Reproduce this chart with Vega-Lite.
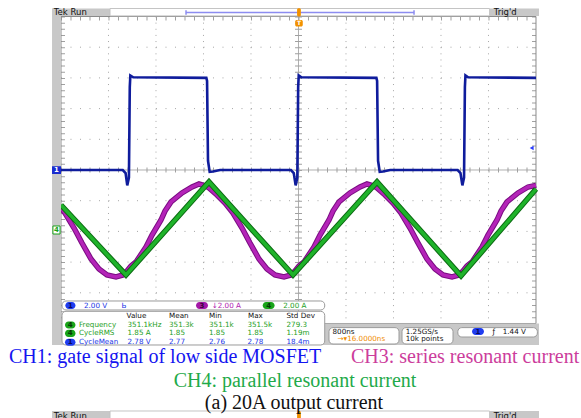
{
  "$schema": "https://vega.github.io/schema/vega-lite/v6.json",
  "width": 581,
  "height": 418,
  "autosize": {"type": "none"},
  "padding": 0,
  "background": "white",
  "config": {"view": {"stroke": null}, "axis": {"disable": true}},
  "data": {"values": [{}]},
  "datasets": {
    "gv": [{"x":1},{"x":2},{"x":3},{"x":4},{"x":6},{"x":7},{"x":8},{"x":9}],
    "gh": [{"y":4},{"y":3},{"y":2},{"y":1},{"y":-1},{"y":-2},{"y":-3},{"y":-4}],
    "ch1": [
      {"x":0,"y":0},{"x":1.30,"y":0},{"x":1.36,"y":-0.1},{"x":1.395,"y":-0.5},{"x":1.43,"y":-0.25},{"x":1.448,"y":2.7},{"x":1.46,"y":3.08},{"x":1.52,"y":3.02},
      {"x":3.06,"y":3.0},{"x":3.075,"y":2.9},{"x":3.095,"y":0.3},{"x":3.13,"y":-0.06},{"x":3.2,"y":-0.05},{"x":3.35,"y":0},
      {"x":4.84,"y":0},{"x":4.90,"y":-0.1},{"x":4.94,"y":-0.5},{"x":4.975,"y":-0.25},{"x":4.993,"y":2.7},{"x":5.005,"y":3.08},{"x":5.06,"y":3.02},
      {"x":6.64,"y":3.0},{"x":6.655,"y":2.9},{"x":6.675,"y":0.3},{"x":6.71,"y":-0.06},{"x":6.78,"y":-0.05},{"x":6.93,"y":0},
      {"x":8.35,"y":0},{"x":8.41,"y":-0.1},{"x":8.45,"y":-0.5},{"x":8.485,"y":-0.25},{"x":8.503,"y":2.7},{"x":8.515,"y":3.08},{"x":8.57,"y":3.02},{"x":10,"y":3.0}
    ],
    "ch3": [
      {"x":0,"y":-1.238},{"x":0.084,"y":-1.401},{"x":0.274,"y":-1.889},{"x":0.442,"y":-2.378},{"x":0.632,"y":-2.899},{"x":0.8,"y":-3.225},{"x":0.968,"y":-3.42},{"x":1.158,"y":-3.485},{"x":1.305,"y":-3.42},{"x":1.389,"y":-3.29},{"x":1.474,"y":-3.127},{"x":1.579,"y":-2.997},{"x":1.789,"y":-2.508},{"x":1.916,"y":-2.117},{"x":2.105,"y":-1.629},{"x":2.189,"y":-1.336},{"x":2.316,"y":-1.042},{"x":2.547,"y":-0.749},{"x":2.758,"y":-0.554},{"x":2.905,"y":-0.456},{"x":3.053,"y":-0.521},{"x":3.116,"y":-0.586},
      {"x":3.284,"y":-0.814},{"x":3.453,"y":-1.075},{"x":3.621,"y":-1.401},{"x":3.811,"y":-1.889},{"x":3.979,"y":-2.378},{"x":4.168,"y":-2.899},{"x":4.337,"y":-3.225},{"x":4.505,"y":-3.42},{"x":4.695,"y":-3.485},{"x":4.842,"y":-3.42},{"x":4.926,"y":-3.29},{"x":5.011,"y":-3.127},{"x":5.116,"y":-2.997},{"x":5.326,"y":-2.508},{"x":5.453,"y":-2.117},{"x":5.642,"y":-1.629},{"x":5.726,"y":-1.336},{"x":5.853,"y":-1.042},{"x":6.084,"y":-0.749},{"x":6.295,"y":-0.554},{"x":6.442,"y":-0.456},{"x":6.589,"y":-0.521},{"x":6.653,"y":-0.586},
      {"x":6.821,"y":-0.814},{"x":6.989,"y":-1.075},{"x":7.158,"y":-1.401},{"x":7.347,"y":-1.889},{"x":7.516,"y":-2.378},{"x":7.705,"y":-2.899},{"x":7.874,"y":-3.225},{"x":8.042,"y":-3.42},{"x":8.232,"y":-3.485},{"x":8.379,"y":-3.42},{"x":8.463,"y":-3.29},{"x":8.547,"y":-3.127},{"x":8.653,"y":-2.997},{"x":8.863,"y":-2.508},{"x":8.989,"y":-2.117},{"x":9.179,"y":-1.629},{"x":9.263,"y":-1.336},{"x":9.389,"y":-1.042},{"x":9.621,"y":-0.749},{"x":9.832,"y":-0.554},{"x":10,"y":-0.5}
    ],
    "ch4": [
      {"x":0,"y":-1.14},{"x":1.368,"y":-3.42},{"x":3.116,"y":-0.39},{"x":4.884,"y":-3.42},{"x":6.653,"y":-0.39},{"x":8.421,"y":-3.45},{"x":10,"y":-0.62}
    ],
    "gray": [
      {"x":-0.189,"x2":0,"y":5.261,"y2":-5.7},
      {"x":-0.189,"x2":1.032,"y":5.261,"y2":5.02},
      {"x":9.023,"x2":10.063,"y":5.261,"y2":5.02},
      {"x":-0.189,"x2":10.063,"y":-4.997,"y2":-5.7},
      {"x":-0.189,"x2":1.032,"y":-7.85,"y2":-8.2},
      {"x":9.023,"x2":10.063,"y":-7.85,"y2":-8.2}
    ],
    "hdrWhite": [
      {"x":1.032,"x2":9.023,"y":5.261,"y2":5.02},
      {"x":1.032,"x2":9.023,"y":-7.85,"y2":-8.2}
    ],
    "orangeR": [
      {"x":4.97,"x2":5.05,"y":5.27,"y2":5.0},
      {"x":4.93,"x2":5.09,"y":4.886,"y2":4.674},
      {"x":4.97,"x2":5.05,"y":-7.85,"y2":-8.2},
      {"x":5.684,"x2":5.789,"y":-5.42,"y2":-5.62}
    ],
    "panels": [
      {"x":0.021,"x2":5.552,"y":-4.267,"y2":-4.56},
      {"x":0.021,"x2":5.552,"y":-4.603,"y2":-5.70},
      {"x":5.642,"x2":7.116,"y":-5.134,"y2":-5.668},
      {"x":7.179,"x2":8.253,"y":-5.134,"y2":-5.668},
      {"x":8.354,"x2":10.029,"y":-5.134,"y2":-5.44}
    ],
    "ovB": [
      {"x":0.091,"x2":0.305,"y":-4.30,"y2":-4.53,"cx":0.198,"cy":-4.414,"t":"1"},
      {"x":0.084,"x2":0.305,"y":-5.497,"y2":-5.727,"cx":0.195,"cy":-5.612,"t":"1"},
      {"x":8.653,"x2":8.905,"y":-5.146,"y2":-5.376,"cx":8.779,"cy":-5.261,"t":"1"}
    ],
    "ovG": [
      {"x":4.246,"x2":4.497,"y":-4.30,"y2":-4.53,"cx":4.372,"cy":-4.414,"t":"4"},
      {"x":0.084,"x2":0.305,"y":-4.934,"y2":-5.164,"cx":0.195,"cy":-5.049,"t":"4"},
      {"x":0.084,"x2":0.305,"y":-5.207,"y2":-5.437,"cx":0.195,"cy":-5.322,"t":"4"}
    ],
    "ovM": [
      {"x":2.842,"x2":3.095,"y":-4.30,"y2":-4.53,"cx":2.969,"cy":-4.414,"t":"3"}
    ],
    "txtBlack": [
      {"x":1.381,"y":-4.746,"t":"Value"},{"x":2.274,"y":-4.746,"t":"Mean"},{"x":3.116,"y":-4.746,"t":"Min"},{"x":3.937,"y":-4.746,"t":"Max"},{"x":4.747,"y":-4.746,"t":"Std Dev"},
      {"x":5.716,"y":-5.261,"t":"800ns"},{"x":7.257,"y":-5.261,"t":"1.25GS/s"},{"x":7.257,"y":-5.521,"t":"10k points"},{"x":9.084,"y":-5.261,"t":"ƒ"},{"x":9.299,"y":-5.261,"t":"1.44 V"}
    ],
    "txtHdr": [
      {"x":-0.15,"y":5.14,"t":"Tek Run"},{"x":9.11,"y":5.14,"t":"Trig'd"},
      {"x":-0.15,"y":-8.0,"t":"Tek Run"},{"x":9.11,"y":-8.0,"t":"Trig'd"}
    ],
    "txtBlue": [
      {"x":0.484,"y":-4.414,"t":"2.00 V"},{"x":1.274,"y":-4.414,"t":"Ь"},
      {"x":0.379,"y":-5.612,"t":"CycleMean"},{"x":1.40,"y":-5.612,"t":"2.78 V"},{"x":2.274,"y":-5.612,"t":"2.77"},{"x":3.116,"y":-5.612,"t":"2.76"},{"x":3.924,"y":-5.612,"t":"2.78"},{"x":4.747,"y":-5.612,"t":"18.4m"}
    ],
    "txtGreen": [
      {"x":4.678,"y":-4.414,"t":"2.00 A"},
      {"x":0.379,"y":-5.049,"t":"Frequency"},{"x":1.40,"y":-5.049,"t":"351.1kHz"},{"x":2.274,"y":-5.049,"t":"351.3k"},{"x":3.116,"y":-5.049,"t":"351.1k"},{"x":3.924,"y":-5.049,"t":"351.5k"},{"x":4.747,"y":-5.049,"t":"279.3"},
      {"x":0.379,"y":-5.322,"t":"CycleRMS"},{"x":1.40,"y":-5.322,"t":"1.85 A"},{"x":2.274,"y":-5.322,"t":"1.85"},{"x":3.116,"y":-5.322,"t":"1.85"},{"x":3.924,"y":-5.322,"t":"1.85"},{"x":4.747,"y":-5.322,"t":"1.19m"}
    ]
  },
  "layer": [
    {
      "data": {"name": "gv"},
      "mark": {"type": "rule", "color": "#a6a6a6", "strokeWidth": 1, "strokeDash": [1, 5.14]},
      "encoding": {
        "x": {"field": "x", "type": "quantitative", "scale": {"domain": [-1.28421, 10.94737], "nice": false, "zero": false}, "axis": null},
        "y": {"datum": 5, "type": "quantitative", "scale": {"domain": [-8.07818, 5.53746], "nice": false, "zero": false}, "axis": null},
        "y2": {"datum": -5}
      }
    },
    {
      "data": {"name": "gh"},
      "mark": {"type": "rule", "color": "#a6a6a6", "strokeWidth": 1, "strokeDash": [1, 8.5]},
      "encoding": {
        "y": {"field": "y", "type": "quantitative"},
        "x": {"datum": 0, "type": "quantitative"},
        "x2": {"datum": 10}
      }
    },
    {
      "mark": {"type": "rule", "color": "#b0b0b0", "strokeWidth": 1},
      "encoding": {"x": {"datum": 0, "type": "quantitative"}, "x2": {"datum": 10}, "y": {"datum": 0, "type": "quantitative"}}
    },
    {
      "mark": {"type": "rule", "color": "#b0b0b0", "strokeWidth": 1},
      "encoding": {"x": {"datum": 5, "type": "quantitative"}, "y": {"datum": 5, "type": "quantitative"}, "y2": {"datum": -5}}
    },
    {
      "mark": {"type": "rule", "color": "#a0a0a0", "strokeWidth": 5, "strokeDash": [1, 8.5]},
      "encoding": {"x": {"datum": 0, "type": "quantitative"}, "x2": {"datum": 10}, "y": {"datum": 0, "type": "quantitative"}}
    },
    {
      "mark": {"type": "rule", "color": "#a0a0a0", "strokeWidth": 7, "strokeDash": [1, 5.14]},
      "encoding": {"x": {"datum": 5, "type": "quantitative"}, "y": {"datum": 5, "type": "quantitative"}, "y2": {"datum": -5}}
    },
    {
      "mark": {"type": "rule", "color": "#a0a0a0", "strokeWidth": 4, "strokeDash": [1, 5.14]},
      "encoding": {"x": {"datum": 0.042, "type": "quantitative"}, "y": {"datum": 5, "type": "quantitative"}, "y2": {"datum": -5}}
    },
    {
      "mark": {"type": "rule", "color": "#a0a0a0", "strokeWidth": 4, "strokeDash": [1, 5.14]},
      "encoding": {"x": {"datum": 9.958, "type": "quantitative"}, "y": {"datum": 5, "type": "quantitative"}, "y2": {"datum": -5}}
    },
    {
      "mark": {"type": "rule", "color": "#a0a0a0", "strokeWidth": 4, "strokeDash": [1, 8.5]},
      "encoding": {"x": {"datum": 0, "type": "quantitative"}, "x2": {"datum": 10}, "y": {"datum": 4.935, "type": "quantitative"}}
    },
    {
      "mark": {"type": "rect", "fillOpacity": 0, "stroke": "#8a8a8a", "strokeWidth": 1},
      "encoding": {"x": {"datum": 0, "type": "quantitative"}, "x2": {"datum": 10}, "y": {"datum": 5, "type": "quantitative"}, "y2": {"datum": -5}}
    },
    {
      "data": {"name": "ch1"},
      "mark": {"type": "line", "color": "#0f1c9c", "strokeWidth": 2.6},
      "encoding": {"x": {"field": "x", "type": "quantitative"}, "y": {"field": "y", "type": "quantitative"}}
    },
    {
      "data": {"name": "ch3"},
      "mark": {"type": "line", "color": "#7a0c82", "strokeWidth": 5.5},
      "encoding": {"x": {"field": "x", "type": "quantitative"}, "y": {"field": "y", "type": "quantitative"}}
    },
    {
      "data": {"name": "ch3"},
      "mark": {"type": "line", "color": "#b424b8", "strokeWidth": 3.5},
      "encoding": {"x": {"field": "x", "type": "quantitative"}, "y": {"field": "y", "type": "quantitative"}}
    },
    {
      "data": {"name": "ch4"},
      "mark": {"type": "line", "color": "#0b6a12", "strokeWidth": 5.5},
      "encoding": {"x": {"field": "x", "type": "quantitative"}, "y": {"field": "y", "type": "quantitative"}}
    },
    {
      "data": {"name": "ch4"},
      "mark": {"type": "line", "color": "#1fb32a", "strokeWidth": 3.5},
      "encoding": {"x": {"field": "x", "type": "quantitative"}, "y": {"field": "y", "type": "quantitative"}}
    },
    {
      "mark": {"type": "point", "shape": "triangle-left", "filled": true, "color": "#2a3cff", "size": 20, "opacity": 1},
      "encoding": {"x": {"datum": 9.909, "type": "quantitative"}, "y": {"datum": 0.717, "type": "quantitative"}}
    },
    {
      "data": {"name": "gray"},
      "mark": {"type": "rect", "color": "#c8c8c8"},
      "encoding": {"x": {"field": "x", "type": "quantitative"}, "x2": {"field": "x2"}, "y": {"field": "y", "type": "quantitative"}, "y2": {"field": "y2"}}
    },
    {
      "data": {"name": "hdrWhite"},
      "mark": {"type": "rect", "fill": "white", "stroke": "#c4c4c4", "strokeWidth": 1},
      "encoding": {"x": {"field": "x", "type": "quantitative"}, "x2": {"field": "x2"}, "y": {"field": "y", "type": "quantitative"}, "y2": {"field": "y2"}}
    },
    {
      "mark": {"type": "rule", "color": "#8c8cf0", "strokeWidth": 1.5},
      "encoding": {"x": {"datum": 2.632, "type": "quantitative"}, "x2": {"datum": 7.432}, "y": {"datum": 5.13, "type": "quantitative"}}
    },
    {
      "mark": {"type": "rule", "color": "#8c8cf0", "strokeWidth": 1.5},
      "encoding": {"x": {"datum": 2.632, "type": "quantitative"}, "y": {"datum": 5.2, "type": "quantitative"}, "y2": {"datum": 5.06}}
    },
    {
      "mark": {"type": "rule", "color": "#8c8cf0", "strokeWidth": 1.5},
      "encoding": {"x": {"datum": 7.432, "type": "quantitative"}, "y": {"datum": 5.2, "type": "quantitative"}, "y2": {"datum": 5.06}}
    },
    {
      "data": {"name": "orangeR"},
      "mark": {"type": "rect", "color": "#f29100", "cornerRadius": 1.5},
      "encoding": {"x": {"field": "x", "type": "quantitative"}, "x2": {"field": "x2"}, "y": {"field": "y", "type": "quantitative"}, "y2": {"field": "y2"}}
    },
    {
      "mark": {"type": "text", "text": "T", "font": "DejaVu Sans", "fontSize": 6, "fontWeight": "bold", "color": "white", "align": "center", "baseline": "middle"},
      "encoding": {"x": {"datum": 5.01, "type": "quantitative"}, "y": {"datum": 4.78, "type": "quantitative"}}
    },
    {
      "data": {"name": "txtHdr"},
      "mark": {"type": "text", "font": "DejaVu Sans", "fontSize": 8.5, "color": "#111111", "align": "left", "baseline": "middle"},
      "encoding": {"x": {"field": "x", "type": "quantitative"}, "y": {"field": "y", "type": "quantitative"}, "text": {"field": "t"}}
    },
    {
      "mark": {"type": "rect", "color": "#1a2ccf"},
      "encoding": {"x": {"datum": -0.189, "type": "quantitative"}, "x2": {"datum": 0}, "y": {"datum": 0.12, "type": "quantitative"}, "y2": {"datum": -0.13}}
    },
    {
      "mark": {"type": "text", "text": "1", "font": "DejaVu Sans", "fontSize": 7, "fontWeight": "bold", "color": "white", "align": "center", "baseline": "middle"},
      "encoding": {"x": {"datum": -0.095, "type": "quantitative"}, "y": {"datum": 0, "type": "quantitative"}}
    },
    {
      "mark": {"type": "rect", "fill": "white", "stroke": "#19a019", "strokeWidth": 1},
      "encoding": {"x": {"datum": -0.17, "type": "quantitative"}, "x2": {"datum": -0.02}, "y": {"datum": -1.824, "type": "quantitative"}, "y2": {"datum": -2.085}}
    },
    {
      "mark": {"type": "text", "text": "4", "font": "DejaVu Sans", "fontSize": 7, "fontWeight": "bold", "color": "#19a019", "align": "center", "baseline": "middle"},
      "encoding": {"x": {"datum": -0.095, "type": "quantitative"}, "y": {"datum": -1.955, "type": "quantitative"}}
    },
    {
      "data": {"name": "panels"},
      "mark": {"type": "rect", "fill": "white", "stroke": "#9a9a9a", "strokeWidth": 1, "cornerRadius": 4},
      "encoding": {"x": {"field": "x", "type": "quantitative"}, "x2": {"field": "x2"}, "y": {"field": "y", "type": "quantitative"}, "y2": {"field": "y2"}}
    },
    {
      "data": {"name": "ovB"},
      "mark": {"type": "rect", "color": "#1f3cf0", "cornerRadius": 3.5},
      "encoding": {"x": {"field": "x", "type": "quantitative"}, "x2": {"field": "x2"}, "y": {"field": "y", "type": "quantitative"}, "y2": {"field": "y2"}}
    },
    {
      "data": {"name": "ovG"},
      "mark": {"type": "rect", "color": "#18a418", "cornerRadius": 3.5},
      "encoding": {"x": {"field": "x", "type": "quantitative"}, "x2": {"field": "x2"}, "y": {"field": "y", "type": "quantitative"}, "y2": {"field": "y2"}}
    },
    {
      "data": {"name": "ovM"},
      "mark": {"type": "rect", "color": "#a418a8", "cornerRadius": 3.5},
      "encoding": {"x": {"field": "x", "type": "quantitative"}, "x2": {"field": "x2"}, "y": {"field": "y", "type": "quantitative"}, "y2": {"field": "y2"}}
    },
    {
      "data": {"name": "ovB"},
      "mark": {"type": "text", "font": "DejaVu Sans", "fontSize": 7, "fontWeight": "bold", "color": "#0a0a60", "align": "center", "baseline": "middle"},
      "encoding": {"x": {"field": "cx", "type": "quantitative"}, "y": {"field": "cy", "type": "quantitative"}, "text": {"field": "t"}}
    },
    {
      "data": {"name": "ovG"},
      "mark": {"type": "text", "font": "DejaVu Sans", "fontSize": 7, "fontWeight": "bold", "color": "#063806", "align": "center", "baseline": "middle"},
      "encoding": {"x": {"field": "cx", "type": "quantitative"}, "y": {"field": "cy", "type": "quantitative"}, "text": {"field": "t"}}
    },
    {
      "data": {"name": "ovM"},
      "mark": {"type": "text", "font": "DejaVu Sans", "fontSize": 7, "fontWeight": "bold", "color": "#3a063a", "align": "center", "baseline": "middle"},
      "encoding": {"x": {"field": "cx", "type": "quantitative"}, "y": {"field": "cy", "type": "quantitative"}, "text": {"field": "t"}}
    },
    {
      "data": {"name": "txtBlack"},
      "mark": {"type": "text", "font": "DejaVu Sans", "fontSize": 7.2, "color": "#111111", "align": "left", "baseline": "middle"},
      "encoding": {"x": {"field": "x", "type": "quantitative"}, "y": {"field": "y", "type": "quantitative"}, "text": {"field": "t"}}
    },
    {
      "data": {"name": "txtBlue"},
      "mark": {"type": "text", "font": "DejaVu Sans", "fontSize": 7.2, "color": "#2035e6", "align": "left", "baseline": "middle"},
      "encoding": {"x": {"field": "x", "type": "quantitative"}, "y": {"field": "y", "type": "quantitative"}, "text": {"field": "t"}}
    },
    {
      "data": {"name": "txtGreen"},
      "mark": {"type": "text", "font": "DejaVu Sans", "fontSize": 7.2, "color": "#1c9e1c", "align": "left", "baseline": "middle"},
      "encoding": {"x": {"field": "x", "type": "quantitative"}, "y": {"field": "y", "type": "quantitative"}, "text": {"field": "t"}}
    },
    {
      "mark": {"type": "text", "text": "↓2.00 A", "font": "DejaVu Sans", "fontSize": 7.2, "color": "#b01ab0", "align": "left", "baseline": "middle"},
      "encoding": {"x": {"datum": 3.173, "type": "quantitative"}, "y": {"datum": -4.414, "type": "quantitative"}}
    },
    {
      "mark": {"type": "text", "text": "→▾16.0000ns", "font": "DejaVu Sans", "fontSize": 7.2, "color": "#f08c00", "align": "left", "baseline": "middle"},
      "encoding": {"x": {"datum": 5.821, "type": "quantitative"}, "y": {"datum": -5.521, "type": "quantitative"}}
    },
    {
      "mark": {"type": "text", "text": "CH1: gate signal of low side MOSFET", "font": "Liberation Serif", "fontSize": 20, "color": "#1414f0", "align": "left", "baseline": "middle"},
      "encoding": {"x": {"datum": -1.095, "type": "quantitative"}, "y": {"datum": -6.1, "type": "quantitative"}}
    },
    {
      "mark": {"type": "text", "text": "CH3: series resonant current", "font": "Liberation Serif", "fontSize": 20, "color": "#cc3d9c", "align": "left", "baseline": "middle"},
      "encoding": {"x": {"datum": 6.105, "type": "quantitative"}, "y": {"datum": -6.1, "type": "quantitative"}}
    },
    {
      "mark": {"type": "text", "text": "CH4: parallel resonant current", "font": "Liberation Serif", "fontSize": 20, "color": "#1faa4a", "align": "center", "baseline": "middle"},
      "encoding": {"x": {"datum": 4.926, "type": "quantitative"}, "y": {"datum": -6.88, "type": "quantitative"}}
    },
    {
      "mark": {"type": "text", "text": "(a) 20A output current", "font": "Liberation Serif", "fontSize": 20, "color": "#111111", "align": "center", "baseline": "middle"},
      "encoding": {"x": {"datum": 4.905, "type": "quantitative"}, "y": {"datum": -7.6, "type": "quantitative"}}
    }
  ]
}
